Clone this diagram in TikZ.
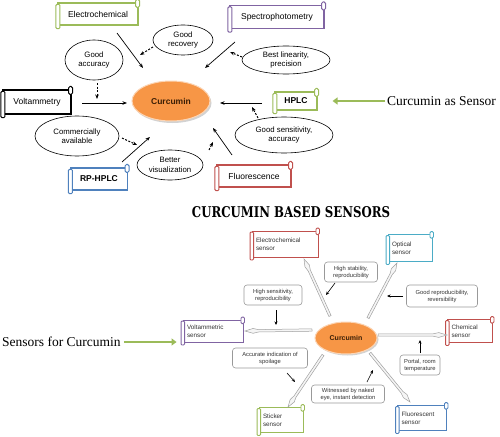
\documentclass[tikz,border=0pt]{standalone}
\usepackage{fontspec}
\setmainfont{Liberation Sans}
\newfontfamily\serifs{Liberation Serif}
\newfontfamily\titlefont{DejaVu Serif}
\usepackage{graphicx}
\usetikzlibrary{shapes.geometric,arrows.meta,calc}
\definecolor{cgreen}{HTML}{9BBB59}
\definecolor{cpurple}{HTML}{8064A2}
\definecolor{cblue}{HTML}{4F81BD}
\definecolor{cred}{HTML}{C0504D}
\definecolor{ccyan}{HTML}{4BACC6}
\definecolor{corange}{HTML}{F79646}
\definecolor{cbrown}{HTML}{3A1E05}
\definecolor{ctext}{HTML}{333333}
\newcommand\spearto[2]{%
  \filldraw[fill=gray!8, draw=gray!75, line width=0.5pt]
    ($(#1)!1.2pt!90:(#2)$) -- ($(#1)!0.80!(#2)!1.2pt!90:(#2)$) -- ($(#1)!0.88!(#2)!2.4pt!90:(#2)$) -- (#2)
    -- ($(#1)!0.88!(#2)!2.4pt!-90:(#2)$) -- ($(#1)!0.80!(#2)!1.2pt!-90:(#2)$) -- ($(#1)!1.2pt!-90:(#2)$) -- cycle;}
\tikzset{
  scroll/.style={draw=#1, line width=1.1pt, fill=white, inner sep=1pt, text=black,
     font=\fontsize{8.5}{10}\selectfont},
  sscroll/.style={draw=#1, line width=0.9pt, fill=white, inner sep=1pt, text=ctext,
     align=left, font=\fontsize{6.3}{7.6}\selectfont},
  oval/.style={ellipse, draw=black, line width=0.6pt, fill=white, inner sep=0pt, align=center,
     font=\fontsize{7.8}{9.4}\selectfont},
  curc/.style={ellipse, fill=corange, draw=corange!40, line width=1pt, inner sep=0pt,
     text=cbrown, font=\bfseries\fontsize{8.5}{10}\selectfont},
  rbox/.style={draw=gray!80, rounded corners=3pt, line width=0.6pt, fill=white, align=center,
     inner sep=1pt, text=ctext, font=\fontsize{5.8}{7}\selectfont},
  arr/.style={-{Stealth[length=4.5pt,width=3.5pt]}, line width=0.7pt},
  darr/.style={-{Stealth[length=4.5pt,width=3.5pt]}, line width=1pt, dash pattern=on 2pt off 1.5pt},
  sarr/.style={-{Stealth[length=3.5pt,width=3pt]}, line width=0.6pt},
  garr/.style={cgreen, line width=2.8pt, -{Triangle[length=5pt,width=7pt]}},
}
\begin{document}
\begin{tikzpicture}[x=1pt,y=-1pt]
\useasboundingbox (0,0) rectangle (500,436);
% ---------- top diagram ----------
\node[scroll=cgreen, minimum width=80pt, minimum height=22pt] (el) at (98,14) {Electrochemical};
\node[scroll=cpurple, minimum width=94pt, minimum height=23pt] (sp) at (277,17) {Spectrophotometry};
\node[scroll=black, minimum width=68pt, minimum height=24pt] (volt) at (37,102) {Voltammetry};
\node[scroll=cgreen, minimum width=42pt, minimum height=18pt, font=\bfseries\fontsize{8.5}{10}\selectfont] (hplc) at (296,101) {HPLC};
\node[scroll=cblue, minimum width=57pt, minimum height=22pt, font=\bfseries\fontsize{8.5}{10}\selectfont] (rp) at (99,179) {RP-HPLC};
\node[scroll=cred, minimum width=74pt, minimum height=22pt] (flu) at (254,176) {Fluorescence};
\foreach \n/\c in {el/cgreen, sp/cpurple, volt/black, hplc/cgreen, rp/cblue, flu/cred}{
  \draw[\c, line width=1pt, fill=white, rounded corners=1pt]
    ([xshift=-1.5pt,yshift=-2pt]\n.north west) rectangle ([xshift=2.5pt,yshift=-3pt]\n.south west);
  \draw[\c, line width=1pt, fill=white, rounded corners=1.5pt]
    ([xshift=-3pt,yshift=3pt]\n.north east) rectangle ([xshift=1pt,yshift=-5pt]\n.north east);
}
\node[oval, minimum width=60pt, minimum height=30pt] (rec) at (183,40) {Good\\recovery};
\node[oval, minimum width=58pt, minimum height=40pt] (acc) at (94,60) {Good\\accuracy};
\node[oval, minimum width=88pt, minimum height=28pt] (lin) at (286,60) {Best linearity,\\precision};
\node[oval, minimum width=84pt, minimum height=40pt] (com) at (77,136) {Commercially\\available};
\node[oval, minimum width=66pt, minimum height=30pt] (vis) at (170,165) {Better\\visualization};
\node[oval, minimum width=98pt, minimum height=36pt] (sen) at (284,135) {Good sensitivity,\\accuracy};
\fill[gray!35] (172.5,103) ellipse (39pt and 20pt);
\node[curc, minimum width=78pt, minimum height=40pt] (cur) at (171,101) {Curcumin};
% top connectors
\draw[arr] ([shift={(19,19)}]el.center) -- ([shift={(-28,-33)}]cur.center);
\draw[arr] ([shift={(-42,25)}]sp.center) -- ([shift={(34,-33)}]cur.center);
\draw[darr] ([shift={(-30,7)}]rec.center) -- ([shift={(-43,15)}]rec.center);
\draw[darr] ([shift={(-44,-3)}]lin.center) -- ([shift={(-56,-8)}]lin.center);
\draw[darr] ([shift={(3,23)}]acc.center) -- ([shift={(3,39)}]acc.center);
\draw[arr] ([shift={(45,1)}]volt.center) -- ([shift={(-44,2)}]cur.center);
\draw[arr] ([shift={(-34,2)}]hplc.center) -- ([shift={(49,2)}]cur.center);
\draw[darr] ([shift={(-26,-17)}]sen.center) -- ([shift={(-32,-28)}]sen.center);
\draw[arr] ([shift={(23,-17)}]rp.center) -- ([shift={(-21,36)}]cur.center);
\draw[darr] ([shift={(45,2)}]com.center) -- ([shift={(60,9)}]com.center);
\draw[arr] ([shift={(-22,-21)}]flu.center) -- ([shift={(42,27)}]cur.center);
\draw[darr] ([shift={(39,-15)}]vis.center) -- ([shift={(43,-23)}]vis.center);
\node[anchor=west, inner sep=0pt, font=\serifs\fontsize{13.5}{15}\selectfont] (t1) at (387,101) {Curcumin as Sensor};
\draw[garr] ([xshift=-2pt]t1.west) -- ([xshift=15pt]hplc.east);
% ---------- title ----------
\node[inner sep=0pt] (title) at (291,212) {\resizebox{198pt}{11pt}{\titlefont\bfseries CURCUMIN BASED SENSORS}};
% ---------- bottom diagram ----------
\node[sscroll=cred, minimum width=66pt, minimum height=26pt, text width=58pt] (es) at (285,244) {Electrochemical\\sensor};
\node[sscroll=ccyan, minimum width=44pt, minimum height=27pt, text width=36pt] (os) at (410,248) {Optical\\sensor};
\node[sscroll=cpurple, minimum width=60pt, minimum height=22pt, text width=52pt] (vs) at (213,331) {Voltammetric\\sensor};
\node[sscroll=cred, minimum width=45pt, minimum height=23pt, text width=37pt] (cs) at (470,331) {Chemical\\sensor};
\node[sscroll=cgreen, minimum width=44pt, minimum height=25pt, text width=36pt] (ss) at (281,420) {Sticker\\sensor};
\node[sscroll=cblue, minimum width=49pt, minimum height=25pt, text width=41pt] (fs) at (422,418) {Fluorescent\\sensor};
\foreach \n/\c in {es/cred, os/ccyan, vs/cpurple, cs/cred, ss/cgreen, fs/cblue}{
  \draw[\c, line width=0.9pt, fill=white, rounded corners=1pt]
    ([xshift=-1.5pt,yshift=-1.5pt]\n.north west) rectangle ([xshift=2pt,yshift=-2.5pt]\n.south west);
  \draw[\c, line width=0.9pt, fill=white, rounded corners=1.2pt]
    ([xshift=-2.5pt,yshift=2.5pt]\n.north east) rectangle ([xshift=1pt,yshift=-4pt]\n.north east);
}
\node[rbox, minimum width=53pt, minimum height=20pt] (hs) at (351,272) {High stability,\\reproducibility};
\node[rbox, minimum width=58pt, minimum height=20pt] (hsr) at (273,295) {High sensitivity,\\reproducibility};
\node[rbox, minimum width=71pt, minimum height=22pt] (gr) at (442,296) {Good reproducibility,\\reversibility};
\node[rbox, minimum width=75pt, minimum height=20pt] (ai) at (270,358) {Accurate indication of\\spoilage};
\node[rbox, minimum width=40pt, minimum height=20pt] (pr) at (420,365) {Portal, room\\temperature};
\node[rbox, minimum width=73pt, minimum height=18pt] (wn) at (348,394) {Witnessed by naked\\eye, instant detection};
\coordinate (cur2c) at (346,338);
\coordinate (aE) at ([shift={(-16,-22)}]cur2c); \coordinate (bE) at ([shift={(19,15)}]es.center);
\coordinate (aO) at ([shift={(22,-20)}]cur2c); \coordinate (bO) at ([shift={(-13,15)}]os.center);
\coordinate (aV) at ([shift={(-34,-8)}]cur2c); \coordinate (bV) at ([shift={(32,0)}]vs.center);
\coordinate (aC) at ([shift={(32,-3)}]cur2c); \coordinate (bC) at ([shift={(-23,4)}]cs.center);
\coordinate (aS) at ([shift={(-23,17)}]cur2c); \coordinate (bS) at ([shift={(7,-13)}]ss.center);
\coordinate (aF) at ([shift={(24,15)}]cur2c); \coordinate (bF) at ([shift={(-12,-16)}]fs.center);
\spearto{aE}{bE}
\spearto{aO}{bO}
\spearto{aV}{bV}
\spearto{aC}{bC}
\spearto{aS}{bS}
\spearto{aF}{bF}
\fill[gray!35] (347.5,339.5) ellipse (31pt and 16pt);
\node[curc, minimum width=62pt, minimum height=32pt, font=\bfseries\fontsize{7}{8}\selectfont] (cur2) at (cur2c) {Curcumin};
\draw[sarr] ([shift={(-16,11)}]hs.center) -- ([shift={(-25,23)}]hs.center);
\draw[sarr] ([shift={(3,15)}]hsr.center) -- ([shift={(3,30)}]hsr.center);
\draw[sarr] ([shift={(-39,0)}]gr.center) -- ([shift={(-55,0)}]gr.center);
\draw[sarr] ([shift={(17,15)}]ai.center) -- ([shift={(25,24)}]ai.center);
\draw[sarr] ([shift={(0,-12)}]pr.center) -- ([shift={(0,-25)}]pr.center);
\draw[sarr] ([shift={(19,-12)}]wn.center) -- ([shift={(25,-24)}]wn.center);
\node[anchor=west, inner sep=0pt, font=\serifs\fontsize{13.5}{15}\selectfont] (t2) at (2,342) {Sensors for Curcumin};
\draw[garr] ([xshift=3pt]t2.east) -- ([shift={(-6,11)}]vs.west);
\end{tikzpicture}
\end{document}
